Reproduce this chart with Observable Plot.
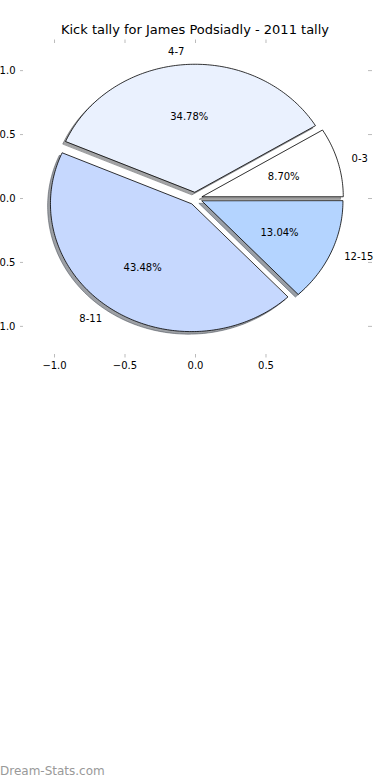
<!DOCTYPE html>
<html>
<head>
<meta charset="utf-8">
<script src="https://cdn.jsdelivr.net/npm/d3@7"></script>
<script src="https://cdn.jsdelivr.net/npm/@observablehq/plot@0.6"></script>
<style>
  html, body { margin: 0; padding: 0; background: #fff; }
  #wrap { position: relative; width: 390px; height: 780px; overflow: hidden; font-family: "DejaVu Sans", sans-serif; }
  #title { position: absolute; left: 0; width: 390px; top: 22px; text-align: center; font-size: 13px; line-height: 16px; color: #000; }
  #chart { position: absolute; left: 0; top: 0; }
  #footer { position: absolute; left: 0; top: 763px; font-size: 12px; line-height: 16px; color: #999; font-weight: 500; }
</style>
</head>
<body>
<div id="wrap">
  <div id="chart"></div>
  <div id="title">Kick tally for James Podsiadly - 2011 tally</div>
  <div id="footer">Dream-Stats.com</div>
</div>
<script>
// ---- data ----
const labels = ["0-3", "4-7", "8-11", "12-15"];
const counts = [2, 8, 10, 3];
const colors = ["#ffffff", "#eaf1fe", "#c6d8fe", "#b4d4ff"];
const explode = [0.05, 0.05, 0.05, 0.05];
const xTicks = [-1.0, -0.5, 0.0, 0.5];
const yTicks = [-1.0, -0.5, 0.0, 0.5, 1.0];

// ---- geometry derived from data (matplotlib pie: start 0°, counter-clockwise) ----
const total = d3.sum(counts);
const wedges = [];
const shadows = [];
const labelPts = [];
const pctPts = [];
let cum = 0;
counts.forEach((c, i) => {
  const t1 = cum / total * 2 * Math.PI;
  cum += c;
  const t2 = cum / total * 2 * Math.PI;
  const mid = (t1 + t2) / 2;
  const cx = explode[i] * Math.cos(mid), cy = explode[i] * Math.sin(mid);
  const n = Math.max(8, Math.ceil((t2 - t1) / (Math.PI / 180)));
  const pts = [[cx, cy]];
  for (let k = 0; k <= n; k++) {
    const a = t1 + (t2 - t1) * k / n;
    pts.push([cx + Math.cos(a), cy + Math.sin(a)]);
  }
  pts.forEach(([x, y]) => {
    wedges.push({id: labels[i], x, y, color: colors[i]});
    const col = d3.rgb(colors[i]);
    shadows.push({id: labels[i], x: x - 0.02, y: y - 0.02,
      color: d3.rgb(col.r * 0.3, col.g * 0.3, col.b * 0.3).formatHex()});
  });
  labelPts.push({text: labels[i], x: cx + 1.1 * Math.cos(mid), y: cy + 1.1 * Math.sin(mid),
    right: Math.cos(mid) > 0});
  pctPts.push({text: d3.format(".2f")(c / total * 100) + "%",
    x: cx + 0.6 * Math.cos(mid), y: cy + 0.6 * Math.sin(mid)});
});

const fmt = d3.format(".1f");
const tickStroke = "#bbbbbb";

const plot = Plot.plot({
  width: 390,
  height: 390,
  marginLeft: 23,
  marginRight: 23,
  marginTop: 42,
  marginBottom: 36,
  style: {fontFamily: "DejaVu Sans, sans-serif", fontSize: "10px", background: "transparent", color: "#000"},
  x: {domain: [-1.22, 1.22]},
  y: {domain: [-1.22, 1.22]},
  marks: [
    Plot.axisX(xTicks, {anchor: "bottom", tickSize: 3.5, tickPadding: 4, tickFormat: fmt, stroke: tickStroke, fill: "#000", label: null, fontSize: 10}),
    Plot.axisX(xTicks, {anchor: "top", tickSize: 3.5, tickFormat: () => "", stroke: tickStroke, label: null}),
    Plot.axisY(yTicks, {anchor: "left", tickSize: 3, tickPadding: 5, tickFormat: fmt, stroke: tickStroke, fill: "#000", label: null, fontSize: 10}),
    Plot.axisY(yTicks, {anchor: "right", tickSize: 4, tickFormat: () => "", stroke: tickStroke, label: null}),
    Plot.line(shadows, {x: "x", y: "y", z: "id", fill: "color", stroke: "color", strokeWidth: 1, fillOpacity: 0.5, strokeOpacity: 0.5, curve: "linear-closed"}),
    Plot.line(wedges, {x: "x", y: "y", z: "id", fill: "color", stroke: "#000", strokeWidth: 0.8, curve: "linear-closed"}),
    Plot.text(labelPts.filter(d => d.right), {x: "x", y: "y", text: "text", textAnchor: "start", fontSize: 10, fill: "#000"}),
    Plot.text(labelPts.filter(d => !d.right), {x: "x", y: "y", text: "text", textAnchor: "end", fontSize: 10, fill: "#000"}),
    Plot.text(pctPts, {x: "x", y: "y", text: "text", textAnchor: "middle", fontSize: 10, fill: "#000", dy: 1})
  ]
});
document.getElementById("chart").appendChild(plot);
</script>
</body>
</html>
